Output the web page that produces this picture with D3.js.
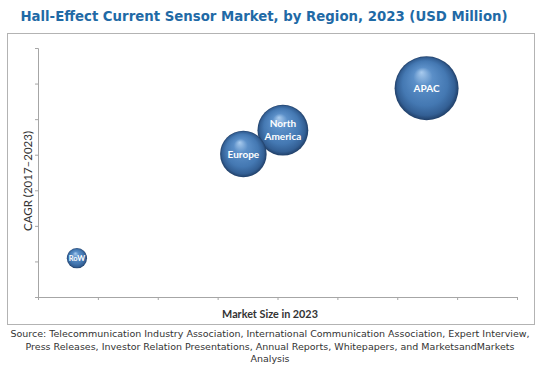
<!DOCTYPE html>
<html>
<head>
<meta charset="utf-8">
<script src="https://cdn.jsdelivr.net/npm/d3@7"></script>
<style>
  body { margin: 0; background: #fff; }
  svg { display: block; }
</style>
</head>
<body>
<div id="chart"></div>
<script>
// data (axes carry no tick labels)
var regions = ["RoW", "Europe", "North America", "APAC"];
var marketSize = [0.65, 3.43, 4.09, 6.49];   // x value, also bubble size
var cagr = [1.09, 4.02, 4.69, 5.87];        // y value
var labelLines = [["RoW"], ["Europe"], ["North", "America"], ["APAC"]];

var width = 540, height = 369;
var plot = { left: 38, right: 517, top: 48, bottom: 297 };

var svg = d3.select("#chart").append("svg")
    .attr("width", width)
    .attr("height", height);

// sphere look
var defs = svg.append("defs");
var grad = defs.append("radialGradient")
    .attr("id", "ball")
    .attr("cx", "50%").attr("cy", "50%").attr("r", "50%")
    .attr("fx", "42%").attr("fy", "25%");
grad.append("stop").attr("offset", "0%").attr("stop-color", "#a9cbee");
grad.append("stop").attr("offset", "30%").attr("stop-color", "#5b8fc8");
grad.append("stop").attr("offset", "70%").attr("stop-color", "#4478b2");
grad.append("stop").attr("offset", "90%").attr("stop-color", "#335f94");
grad.append("stop").attr("offset", "100%").attr("stop-color", "#203f68");

// title
svg.append("text")
    .attr("x", 264)
    .attr("y", 21)
    .attr("text-anchor", "middle")
    .style("font-family", "DejaVu Sans, Verdana, sans-serif")
    .style("font-weight", "bold")
    .style("font-size", "13.3px")
    .style("fill", "#1f6aa6")
    .text("Hall-Effect Current Sensor Market, by Region, 2023 (USD Million)");

// outer frame
svg.append("rect")
    .attr("x", 7.5).attr("y", 33.5)
    .attr("width", 527).attr("height", 291)
    .attr("fill", "none")
    .attr("stroke", "#b3b3b3")
    .attr("stroke-width", 1);

var x = d3.scaleLinear().domain([0, 8]).range([plot.left, plot.right]);
var y = d3.scaleLinear().domain([0, 7]).range([plot.bottom, plot.top]);
var r = d3.scaleSqrt().domain([0, 6.49]).range([0, 32]);

var xAxis = svg.append("g")
    .attr("transform", "translate(0," + plot.bottom + ")")
    .call(d3.axisBottom(x).ticks(8).tickSize(3).tickFormat(""));
var yAxis = svg.append("g")
    .attr("transform", "translate(" + plot.left + ",0)")
    .call(d3.axisLeft(y).ticks(7).tickSize(3).tickFormat(""));
[xAxis, yAxis].forEach(function (a) {
    a.selectAll("path, line").attr("stroke", "#a6a6a6");
});

// axis titles
svg.append("text")
    .attr("x", 270)
    .attr("y", 318)
    .attr("text-anchor", "middle")
    .style("font-family", "Lato, sans-serif")
    .style("font-weight", "bold")
    .style("font-size", "10.8px")
    .style("fill", "#333")
    .text("Market Size in 2023");

svg.append("text")
    .attr("transform", "translate(32,181) rotate(-90)")
    .attr("text-anchor", "middle")
    .style("font-family", "Lato, sans-serif")
    .style("font-size", "11.5px")
    .style("fill", "#333")
    .text("CAGR (2017\u20132023)");

// bubbles, smallest on top
var order = d3.range(regions.length).sort(function (a, b) {
    return marketSize[b] - marketSize[a];
});

var bubbles = svg.selectAll("g.bubble")
    .data(order)
    .enter().append("g")
    .attr("class", "bubble")
    .attr("transform", function (i) {
        return "translate(" + x(marketSize[i]) + "," + y(cagr[i]) + ")";
    });

bubbles.append("circle")
    .attr("r", function (i) { return r(marketSize[i]); })
    .attr("fill", "url(#ball)");

bubbles.each(function (i) {
    var lines = labelLines[i];
    var fs = regions[i] === "RoW" ? 7.5 : 10;
    var t = d3.select(this).append("text")
        .attr("text-anchor", "middle")
        .style("font-family", "Lato, sans-serif")
        .style("font-weight", "bold")
        .style("font-size", fs + "px")
        .style("fill", "#fff");
    lines.forEach(function (line, k) {
        t.append("tspan")
            .attr("x", 0)
            .attr("y", (k - (lines.length - 1) / 2) * 13 + fs * 0.35)
            .text(line);
    });
});

// source note
var source = [
    "Source: Telecommunication Industry Association, International Communication Association, Expert Interview,",
    "Press Releases, Investor Relation Presentations, Annual Reports, Whitepapers, and MarketsandMarkets",
    "Analysis"
];
svg.append("g").selectAll("text")
    .data(source)
    .enter().append("text")
    .attr("x", width / 2)
    .attr("y", function (d, i) { return 337 + i * 12.5; })
    .attr("text-anchor", "middle")
    .style("font-family", "DejaVu Sans, Tahoma, sans-serif")
    .style("font-size", "9.5px")
    .style("fill", "#333")
    .text(function (d) { return d; });
</script>
</body>
</html>
